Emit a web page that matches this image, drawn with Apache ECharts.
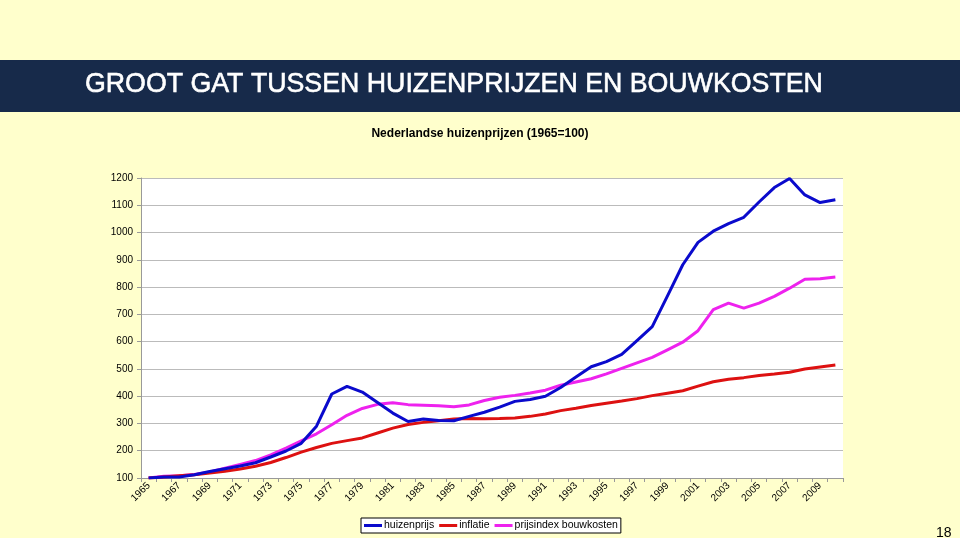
<!DOCTYPE html>
<html><head><meta charset="utf-8">
<script src="https://cdn.jsdelivr.net/npm/echarts@6/dist/echarts.min.js"></script>
<style>html,body{margin:0;padding:0;background:#FFFFCC;}#c{width:960px;height:538px;}</style>
</head><body><div id="c"></div>
<script>
var years = [];
for (var y = 1965; y <= 2010; y++) years.push(String(y));

var huizenprijs = [100,104,104,112,124,134,144,156,177,199,227,290,408,436,415,377,338,307,316,311,310,326,341,360,381,388,400,432,470,508,527,553,604,655,768,882,964,1005,1033,1056,1112,1165,1198,1138,1110,1120];
var inflatie = [100,104,108,112,118,125,133,143,157,175,195,212,227,237,247,265,283,296,304,310,316,318,317,318,320,326,335,347,356,366,374,382,391,402,411,420,437,453,462,468,476,481,488,500,507,514];
var bouwkosten = [100,106,108,113,122,136,150,164,185,210,236,262,295,330,355,370,376,369,367,365,361,368,384,396,403,412,422,440,452,464,482,502,522,542,570,598,640,717,741,723,741,766,796,829,831,837];

var chart = echarts.init(document.getElementById('c'), null, {renderer:'canvas'});
chart.setOption({
  backgroundColor: '#FFFFCC',
  animation: false,
  graphic: [
    {type:'rect', left:0, top:60, shape:{width:960, height:52}, style:{fill:'#172A4A'}},
    {type:'text', x:85, y:70, scaleX:0.955, style:{text:'GROOT GAT TUSSEN HUIZENPRIJZEN EN BOUWKOSTEN', fill:'#fff', stroke:'#fff', lineWidth:0.6, font:'28px "Liberation Sans", Arial, sans-serif'}},
    {type:'text', left:936, top:526, style:{text:'18', fill:'#000', font:'14px "Liberation Sans", Arial, sans-serif'}}
  ],
  title: {
    text: 'Nederlandse huizenprijzen (1965=100)',
    left: 'center', top: 123,
    textStyle: {fontSize: 12, fontWeight: 'bold', color: '#000', fontFamily: '"Liberation Sans", Arial, sans-serif'}
  },
  legend: {
    bottom: 5, left: 361,
    icon: 'rect', itemWidth: 18, itemHeight: 3, itemGap: 5,
    backgroundColor: '#fff', borderColor: '#000', borderWidth: 1, borderRadius: 0,
    padding: [2, 3],
    textStyle: {fontSize: 10.5, color: '#000', fontFamily: '"Liberation Sans", Arial, sans-serif', padding:[0,0,0,-3]},
    data: ['huizenprijs', 'inflatie', 'prijsindex bouwkosten']
  },
  grid: {left: 141, right: 117, top: 178, bottom: 60, show: true, backgroundColor: '#fff', borderWidth: 0},
  xAxis: {
    type: 'category', data: years, boundaryGap: true,
    axisLine: {lineStyle: {color: '#999', width: 1}},
    axisTick: {show: true, interval: 0, length: 4, lineStyle: {color: '#999'}},
    axisLabel: {interval: 1, rotate: 45, fontSize: 10, color: '#000', margin: 6, fontFamily: '"Liberation Sans", Arial, sans-serif'},
    splitLine: {show: false}
  },
  yAxis: {
    type: 'value', min: 100, max: 1200, interval: 100,
    axisLine: {show: true, lineStyle: {color: '#999', width: 1}},
    axisTick: {show: true, length: 4, lineStyle: {color: '#999'}},
    axisLabel: {fontSize: 10, color: '#000', margin: 8, fontFamily: '"Liberation Sans", Arial, sans-serif', formatter: function(v){ return String(v); }},
    splitLine: {lineStyle: {color: '#bbb', width: 1}}
  },
  series: [
    {name: 'huizenprijs', type: 'line', data: huizenprijs, showSymbol: false, symbol: 'none', lineStyle: {width: 3, color: '#0A0ACC'}, itemStyle: {color: '#0A0ACC'}, z: 4},
    {name: 'inflatie', type: 'line', data: inflatie, showSymbol: false, symbol: 'none', lineStyle: {width: 3, color: '#DD1111'}, itemStyle: {color: '#DD1111'}, z: 3},
    {name: 'prijsindex bouwkosten', type: 'line', data: bouwkosten, showSymbol: false, symbol: 'none', lineStyle: {width: 3, color: '#EE22EE'}, itemStyle: {color: '#EE22EE'}, z: 2}
  ]
});
</script></body></html>
